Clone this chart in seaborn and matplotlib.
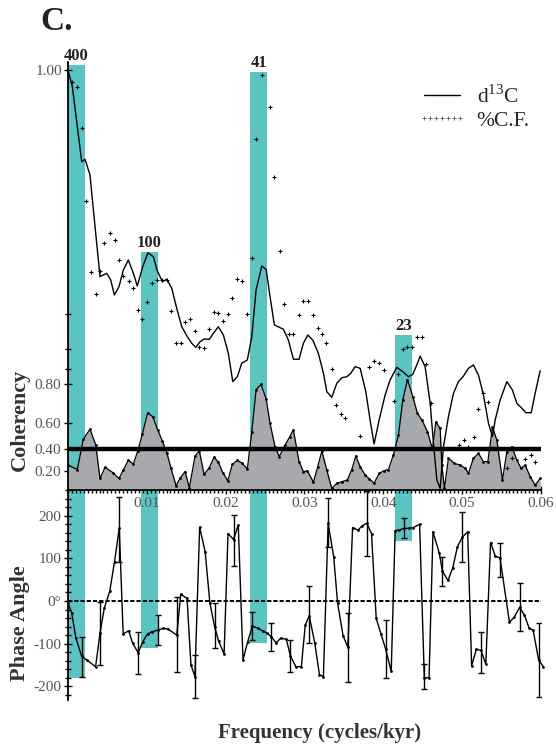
import numpy as np
import seaborn as sns
import matplotlib
matplotlib.use('Agg')
import matplotlib.pyplot as plt
import matplotlib.transforms as mtransforms
from matplotlib.patches import Rectangle
from matplotlib.lines import Line2D
from matplotlib.ticker import MultipleLocator, NullLocator, FixedLocator

# orbital bands (cycles/kyr) with their labels
band_lo = [0.0, 0.00927, 0.0231, 0.0415]
band_hi = [0.00216, 0.01142, 0.0253, 0.0437]
band_labels = ['400', '100', '41', '23']
band_spec_top = [0.036, -1.298, -0.012, -1.893]   # log10 normalised power
band_phase_bottom = [-180, -110, -98, 141]

# d13C spectrum (log10 normalised power)
d13c_freq = [0.0, 0.00055, 0.00174, 0.00216, 0.00279, 0.00343, 0.00406, 0.00491, 0.00542, 0.00588,
             0.00647, 0.00702, 0.00765, 0.00829, 0.00879, 0.00948, 0.01015, 0.01083, 0.01129, 0.01197,
             0.01253, 0.01316, 0.01379, 0.01443, 0.01514, 0.01570, 0.01621, 0.01675, 0.01730, 0.01793,
             0.01844, 0.01907, 0.01971, 0.02034, 0.02090, 0.02148, 0.02204, 0.02275, 0.02331, 0.02386,
             0.02458, 0.02513, 0.02563, 0.02618, 0.02732, 0.02796, 0.02859, 0.02931, 0.02986, 0.03042,
             0.03105, 0.03176, 0.03240, 0.03283, 0.03346, 0.03410, 0.03473, 0.03537, 0.03588, 0.03642,
             0.03706, 0.03778, 0.03832, 0.03883, 0.03947, 0.04023, 0.04086, 0.04171, 0.04247, 0.04319,
             0.04374, 0.04433, 0.04467, 0.04530, 0.04594, 0.04636, 0.04679, 0.04721, 0.04763, 0.04826,
             0.04890, 0.04953, 0.05017, 0.05080, 0.05143, 0.05207, 0.05270, 0.05334, 0.05384, 0.05419,
             0.05482, 0.05567, 0.05638, 0.05694, 0.05758, 0.05808, 0.05876, 0.05926, 0.05990]
d13c_log10 = [0.0, -0.119, -0.655, -0.638, -0.750, -1.119, -1.476, -1.452, -1.500, -1.607,
              -1.548, -1.429, -1.357, -1.452, -1.543, -1.405, -1.305, -1.334, -1.429, -1.512,
              -1.495, -1.559, -1.702, -1.834, -1.905, -1.952, -1.981, -1.941, -1.921, -1.924,
              -1.881, -1.834, -1.893, -2.024, -2.226, -2.191, -2.095, -2.071, -1.905, -1.571,
              -1.400, -1.424, -1.619, -1.821, -1.852, -1.929, -2.066, -2.066, -1.952, -1.893,
              -1.929, -2.024, -2.166, -2.298, -2.338, -2.238, -2.198, -2.191, -2.166, -2.119,
              -2.131, -2.298, -2.500, -2.671, -2.500, -2.321, -2.214, -2.124, -2.155, -2.191,
              -2.174, -2.095, -2.043, -2.119, -2.379, -2.666, -2.929, -2.988, -2.691, -2.476,
              -2.309, -2.226, -2.186, -2.131, -2.107, -2.179, -2.321, -2.524, -2.619, -2.500,
              -2.357, -2.226, -2.286, -2.381, -2.416, -2.448, -2.448, -2.309, -2.148]

# %C.F. spectrum (log10 normalised power)
cf_freq = [0.00047, 0.00118, 0.00174, 0.00228, 0.00288, 0.00355, 0.00406, 0.00463, 0.00533, 0.00590,
           0.00647, 0.00702, 0.00774, 0.00829, 0.00882, 0.00943, 0.01006, 0.01070, 0.01126, 0.01189,
           0.01253, 0.01307, 0.01371, 0.01434, 0.01485, 0.01548, 0.01612, 0.01666, 0.01726, 0.01793,
           0.01853, 0.01907, 0.01963, 0.02034, 0.02085, 0.02148, 0.02212, 0.02272, 0.02331, 0.02382,
           0.02458, 0.02563, 0.02618, 0.02690, 0.02745, 0.02808, 0.02859, 0.02931, 0.02986, 0.03039,
           0.03108, 0.03169, 0.03223, 0.03278, 0.03346, 0.03401, 0.03461, 0.03515, 0.03706, 0.03824,
           0.03883, 0.03950, 0.04010, 0.04137, 0.04192, 0.04247, 0.04306, 0.04369, 0.04433, 0.04489,
           0.04543, 0.04607, 0.04956, 0.05028, 0.05080, 0.05147, 0.05203, 0.05270, 0.05330, 0.05567,
           0.05631, 0.05799, 0.05869, 0.05930]
cf_log10 = [-0.084, -0.124, -0.412, -0.936, -1.445, -1.600, -1.438, -1.238, -1.164, -1.214,
            -1.357, -1.474, -1.505, -1.559, -1.711, -1.781, -1.655, -1.524, -1.500, -1.500,
            -1.500, -1.721, -1.952, -1.952, -1.798, -1.781, -1.862, -1.976, -1.988, -1.850,
            -1.726, -1.734, -1.791, -1.743, -1.626, -1.495, -1.505, -1.743, -1.341, -0.493,
            -0.036, -0.262, -0.766, -1.291, -1.671, -1.886, -1.886, -1.752, -1.649, -1.649,
            -1.748, -1.841, -1.883, -1.952, -2.138, -2.393, -2.459, -2.488, -2.612, -2.121,
            -2.079, -2.091, -2.143, -2.362, -2.174, -1.995, -1.976, -1.976, -1.905, -1.905,
            -2.102, -2.381, -2.676, -2.646, -2.691, -2.623, -2.419, -2.309, -2.373, -2.845,
            -2.774, -2.779, -2.750, -2.798]

# coherency
coh_freq = [0.0, 0.00118, 0.00194, 0.00279, 0.00352, 0.00406, 0.00470, 0.00567, 0.00647, 0.00702,
            0.00765, 0.00829, 0.00885, 0.00943, 0.01011, 0.01075, 0.01138, 0.01197, 0.01253, 0.01307,
            0.01371, 0.01421, 0.01485, 0.01539, 0.01612, 0.01666, 0.01726, 0.01793, 0.01853, 0.01907,
            0.01963, 0.02027, 0.02085, 0.02148, 0.02212, 0.02275, 0.02331, 0.02386, 0.02449, 0.02513,
            0.02563, 0.02627, 0.02680, 0.02754, 0.02810, 0.02859, 0.02931, 0.02986, 0.03037, 0.03113,
            0.03165, 0.03220, 0.03283, 0.03346, 0.03410, 0.03473, 0.03544, 0.03600, 0.03651, 0.03706,
            0.03769, 0.03824, 0.03883, 0.03947, 0.04010, 0.04065, 0.04128, 0.04192, 0.04247, 0.04306,
            0.04374, 0.04433, 0.04492, 0.04560, 0.04623, 0.04666, 0.04721, 0.04742, 0.04775, 0.04826,
            0.04902, 0.04975, 0.05038, 0.05080, 0.05143, 0.05207, 0.05270, 0.05326, 0.05384, 0.05440,
            0.05511, 0.05567, 0.05631, 0.05694, 0.05749, 0.05799, 0.05863, 0.05926, 0.05990]
coh_vals = [0.254, 0.21, 0.484, 0.56, 0.437, 0.12, 0.232, 0.18, 0.12, 0.205,
            0.30, 0.264, 0.385, 0.525, 0.667, 0.643, 0.555, 0.47, 0.37, 0.222,
            0.045, 0.12, 0.19, 0.024, 0.34, 0.385, 0.162, 0.228, 0.33, 0.28,
            0.18, 0.097, 0.26, 0.30, 0.27, 0.215, 0.54, 0.78, 0.80, 0.74,
            0.60, 0.42, 0.334, 0.437, 0.50, 0.555, 0.287, 0.188, 0.198, 0.08,
            0.23, 0.385, 0.205, 0.017, 0.07, 0.086, 0.104, 0.21, 0.34, 0.238,
            0.155, 0.114, 0.07, 0.172, 0.198, 0.21, 0.35, 0.517, 0.734, 0.817,
            0.75, 0.663, 0.62, 0.543, 0.40, 0.61, 0.566, 0.254, 0.018, 0.319,
            0.27, 0.254, 0.222, 0.172, 0.319, 0.364, 0.287, 0.287, 0.574, 0.478,
            0.104, 0.38, 0.423, 0.30, 0.222, 0.254, 0.138, 0.052, 0.12]
coh_level = 0.40

# phase (degrees)
phase_freq = [0.0, 0.00047, 0.0010, 0.00174, 0.00237, 0.0035, 0.00406, 0.0046, 0.0053, 0.0059,
              0.0065, 0.0070, 0.0077, 0.0082, 0.0089, 0.0095, 0.0101, 0.0107, 0.0114, 0.0121,
              0.0127, 0.0138, 0.0143, 0.0151, 0.0156, 0.0161, 0.0167, 0.0174, 0.0180, 0.0186,
              0.0191, 0.0198, 0.0203, 0.0210, 0.0216, 0.0222, 0.0228, 0.0234, 0.0241, 0.0247,
              0.0253, 0.0258, 0.0264, 0.0270, 0.0277, 0.0282, 0.0289, 0.0296, 0.0301, 0.0306,
              0.0313, 0.0319, 0.0324, 0.0330, 0.0337, 0.0342, 0.0349, 0.0355, 0.0361, 0.0368,
              0.0373, 0.0379, 0.0385, 0.0391, 0.0397, 0.0403, 0.0410, 0.0415, 0.0420, 0.0426,
              0.0432, 0.0438, 0.0446, 0.0452, 0.0458, 0.0463, 0.0471, 0.0475, 0.0482, 0.0488,
              0.0494, 0.0500, 0.0507, 0.0512, 0.0518, 0.0524, 0.0530, 0.0536, 0.0542, 0.0548,
              0.0560, 0.0566, 0.0573, 0.0579, 0.0585, 0.0590, 0.0597, 0.0603]
phase_vals = [-5, -28, -87, -130, -138, -154, -75, -17, 23, 92,
              170, -77, -70, -99, -121, -95, -77, -72, -68, -64,
              -66, -80, 16, 6, -150, -177, 173, 115, -5, -60,
              -94, -124, 158, 144, 178, -138, -95, -59, -64, -70,
              -76, -84, -98, -87, -90, -128, -154, -154, -56, -35,
              -98, -173, -177, 182, 104, -5, -82, -108, 172, 166,
              176, 182, 158, -41, -77, -113, -165, 165, 166, 170,
              170, 172, 180, -180, -180, 162, 112, 70, 48, 77,
              127, 149, 162, -152, -113, -116, -148, 137, 105, 101,
              -50, -38, -15, -33, -64, -68, -138, -154]

# phase error bars (lower / upper limit, degrees)
err_freq = [0.00174, 0.00406, 0.0065, 0.0089, 0.0114, 0.0138, 0.0161, 0.0186, 0.0210, 0.0234,
            0.0258, 0.0282, 0.0306, 0.0330, 0.0355, 0.0379, 0.0403, 0.0426, 0.0452, 0.0475,
            0.0500, 0.0524, 0.0548, 0.0573, 0.0597]
err_low = [-177, -150, 92, -172, -103, -166, -227, -110, 82, -91,
           -117, -166, -99, 127, -189, 106, -181, 147, -206, 36,
           91, -169, 57, -70, -226]
err_high = [-84, -2, 244, -72, -34, 10, -126, -5, 201, -25,
            -52, -91, 36, 242, -29, 258, -45, 194, -148, 104,
            208, -72, 137, 43, -52]

TEAL = '#5bc4c2'
GRAY_FILL = '#a7a9ac'
TXT_GRAY = '#555555'
PH_TOP = 260

sns.set_style('white')
plt.rcParams['font.family'] = ['Liberation Serif', 'DejaVu Serif']
plt.rcParams['mathtext.fontset'] = 'custom'
plt.rcParams['mathtext.rm'] = 'Liberation Serif'

fig = plt.figure(figsize=(5.56, 7.49), dpi=100)
ax_coh = fig.add_axes([0.1223, 0.3458, 0.8507, 0.5714])
ax_ph = fig.add_axes([0.1223, 0.0654, 0.8507, 0.2804])
ax_spec = ax_coh.twinx()
ax_ph.set_zorder(1)
ax_ph.patch.set_visible(False)
ax_coh.set_zorder(2)
ax_coh.patch.set_visible(False)
ax_spec.set_zorder(3)

# ---- top panel: spectra (log) over coherency (hyperbolic arctangent scale)
ax_spec.set_yscale('log')
ax_spec.set_ylim(1e-3, 1.14)

blend = mtransforms.blended_transform_factory(ax_coh.transData, ax_spec.transData)
for lo, hi, top in zip(band_lo, band_hi, band_spec_top):
    ax_coh.add_patch(Rectangle((lo, 1e-4), hi - lo, 10 ** top - 1e-4, transform=blend,
                               facecolor=TEAL, edgecolor='none', zorder=0.5))

ax_coh.fill_between(coh_freq, 0, coh_vals, color=GRAY_FILL, lw=0, zorder=1)
sns.lineplot(x=coh_freq, y=coh_vals, ax=ax_coh, color='black', linewidth=0.9,
             marker='o', markersize=2, markeredgewidth=0, estimator=None, sort=False, zorder=2)
ax_coh.axhline(coh_level, color='black', lw=3.2, zorder=3)


def fwd(c):
    return np.arctanh(np.clip(c, -0.9999999, 0.9999999))


ax_coh.set_yscale('function', functions=(fwd, np.tanh))
ax_coh.set_ylim(0, 0.99973)
ax_coh.set_xlim(0, 0.06)
ax_coh.yaxis.set_major_locator(FixedLocator([0.2, 0.4, 0.6, 0.8]))
ax_coh.set_yticklabels(['0.20', '0.40', '0.60', '0.80'])
ax_coh.yaxis.set_minor_locator(FixedLocator([0.85, 0.9, 0.95]))
ax_coh.xaxis.set_major_locator(FixedLocator([0.01, 0.02, 0.03, 0.04, 0.05, 0.06]))
ax_coh.set_xticklabels(['0.01', '0.02', '0.03', '0.04', '0.05', '0.06'])
ax_coh.xaxis.set_minor_locator(MultipleLocator(0.0005))
ax_coh.tick_params(which='both', direction='inout', color='black', width=1,
                   labelcolor=TXT_GRAY, labelsize=11, left=True, bottom=True)
ax_coh.tick_params(which='major', length=6, pad=2)
ax_coh.tick_params(which='minor', length=4)
for side in ['top', 'right']:
    ax_coh.spines[side].set_visible(False)
for side in ['left', 'bottom']:
    ax_coh.spines[side].set_linewidth(1.3)
    ax_coh.spines[side].set_color('black')
ax_coh.set_xlabel('')
ax_coh.set_ylabel('')

sns.lineplot(x=d13c_freq, y=10 ** np.array(d13c_log10), ax=ax_spec, color='black',
             linewidth=1.0, estimator=None, sort=False, zorder=4)
sns.scatterplot(x=cf_freq, y=10 ** np.array(cf_log10), ax=ax_spec, marker='+', s=8,
                color='black', linewidth=0.8, zorder=5)
ax_spec.set_ylim(1e-3, 1.14)
ax_spec.set_xlim(0, 0.06)
ax_spec.yaxis.set_major_locator(FixedLocator([1.0]))
ax_spec.set_yticklabels(['1.00'])
ax_spec.yaxis.set_minor_locator(NullLocator())
ax_spec.yaxis.set_ticks_position('left')
ax_spec.tick_params(axis='y', direction='inout', length=6, width=1, color='black',
                    labelcolor=TXT_GRAY, labelsize=11, pad=1)
for s in ax_spec.spines.values():
    s.set_visible(False)
ax_spec.set_ylabel('')

for lo, hi, top, lbl in zip(band_lo, band_hi, band_spec_top, band_labels):
    ax_spec.annotate(lbl, xy=((lo + hi) / 2, 10 ** top), xytext=(0, 0.5), textcoords='offset points',
                     ha='center', va='bottom', fontsize=12, fontweight='bold', color='#222222',
                     annotation_clip=False)

handles = [Line2D([0], [0], color='black', lw=1.0),
           Line2D([0], [0], ls='none', marker='+', ms=3.2, mew=0.6, color='#555555')]
ax_spec.legend(handles=handles, labels=[r'd$^{13}$C', '%C.F.'], numpoints=7, handlelength=2.3,
               frameon=False, loc='upper right', bbox_to_anchor=(0.994, 0.967), borderaxespad=0,
               handletextpad=0.45, labelspacing=0.15, prop={'family': 'Liberation Serif', 'size': 15.5})

# ---- bottom panel: phase angle
for lo, hi, bot in zip(band_lo, band_hi, band_phase_bottom):
    ax_ph.bar(lo, PH_TOP - bot, width=hi - lo, bottom=bot, align='edge', color=TEAL,
              edgecolor='none', zorder=0)
ax_ph.axhline(0, color='black', lw=1.4, dashes=(2.2, 1.0), zorder=1)
sns.lineplot(x=phase_freq, y=phase_vals, ax=ax_ph, color='black', linewidth=1.0,
             marker='o', markersize=2, markeredgewidth=0, estimator=None, sort=False, zorder=3)
for ln in ax_ph.lines:
    ln.set_clip_on(False)
err_lo = np.array(err_low)
err_hi = np.array(err_high)
ax_ph.errorbar(err_freq, (err_lo + err_hi) / 2, yerr=(err_hi - err_lo) / 2, fmt='none',
               ecolor='black', elinewidth=1.0, capsize=2, capthick=1.0, zorder=3)
ax_ph.set_xlim(0, 0.06)
ax_ph.set_ylim(-232, PH_TOP)
ax_ph.yaxis.set_major_locator(FixedLocator([-200, -100, 0, 100, 200]))
ax_ph.set_yticklabels(['-200', '-100', '0°', '100', '200'])
ax_ph.yaxis.set_minor_locator(MultipleLocator(20))
ax_ph.tick_params(axis='y', which='both', direction='inout', color='black', width=1,
                  labelcolor=TXT_GRAY, labelsize=11, left=True)
ax_ph.tick_params(axis='y', which='major', length=6, pad=2)
ax_ph.tick_params(axis='y', which='minor', length=4)
ax_ph.tick_params(axis='x', which='both', bottom=False, labelbottom=False)
for side in ['top', 'right', 'bottom']:
    ax_ph.spines[side].set_visible(False)
ax_ph.spines['left'].set_linewidth(1.3)
ax_ph.spines['left'].set_color('black')
ax_ph.set_xlabel('')
ax_ph.set_ylabel('')

# ---- figure texts
fig.text(0.101, 0.971, 'C.', fontsize=24, fontweight='bold', color='#222222', ha='center', va='center')
fig.text(0.036, 0.44, 'Coherency', rotation=90, fontsize=16, fontweight='bold', color='#333333',
         ha='center', va='center')
fig.text(0.036, 0.168, 'Phase Angle', rotation=90, fontsize=16, fontweight='bold', color='#333333',
         ha='center', va='center')
fig.text(0.575, 0.022, 'Frequency (cycles/kyr)', fontsize=15, fontweight='bold', color='#333333',
         ha='center', va='center')

fig.savefig('out.png', dpi=100)
